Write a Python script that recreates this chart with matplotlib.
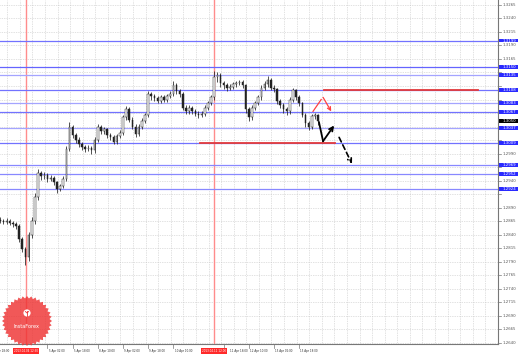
"""EURUSD H-chart snapshot with support/resistance levels and forecast arrows."""
import matplotlib
matplotlib.use("Agg")
import matplotlib.pyplot as plt
from matplotlib.patches import Rectangle, Polygon, Circle
import numpy as np

# ---- data (2-hour bars) ----
OPEN0 = 1.2868
CLOSE = [
    1.2866, 1.2864, 1.2866, 1.2862, 1.2860, 1.2857, 1.2832, 1.2814, 1.2799, 1.2840,
    1.2866, 1.2910, 1.2954, 1.2948, 1.2950, 1.2943, 1.2945, 1.2937, 1.2924, 1.2930,
    1.2943, 1.2998, 1.3039, 1.3024, 1.3016, 1.3007, 1.3002, 1.2998, 1.3000, 1.2996,
    1.3016, 1.3039, 1.3031, 1.3035, 1.3024, 1.3020, 1.3011, 1.3022, 1.3029, 1.3057,
    1.3072, 1.3053, 1.3040, 1.3026, 1.3040, 1.3050, 1.3061, 1.3100, 1.3096, 1.3092,
    1.3088, 1.3094, 1.3090, 1.3096, 1.3100, 1.3116, 1.3105, 1.3100, 1.3075, 1.3068,
    1.3074, 1.3068, 1.3064, 1.3061, 1.3064, 1.3075, 1.3083, 1.3094, 1.3131, 1.3135,
    1.3120, 1.3116, 1.3111, 1.3114, 1.3118, 1.3120, 1.3122, 1.3116, 1.3072, 1.3057,
    1.3075, 1.3083, 1.3094, 1.3112, 1.3118, 1.3127, 1.3112, 1.3109, 1.3087, 1.3079,
    1.3072, 1.3068, 1.3090, 1.3107, 1.3094, 1.3083, 1.3062, 1.3046, 1.3039, 1.3059,
    1.3061, 1.3050,
]
HIGH = [
    1.2872, 1.2870, 1.2871, 1.2869, 1.2866, 1.2864, 1.2860, 1.2836, 1.2818, 1.2845,
    1.2872, 1.2918, 1.2962, 1.2958, 1.2956, 1.2954, 1.2950, 1.2948, 1.2940, 1.2934,
    1.2948, 1.3004, 1.3048, 1.3043, 1.3028, 1.3020, 1.3011, 1.3006, 1.3005, 1.3004,
    1.3020, 1.3045, 1.3043, 1.3040, 1.3038, 1.3028, 1.3024, 1.3026, 1.3034, 1.3062,
    1.3078, 1.3076, 1.3057, 1.3044, 1.3045, 1.3055, 1.3066, 1.3106, 1.3104, 1.3100,
    1.3096, 1.3098, 1.3099, 1.3101, 1.3105, 1.3125, 1.3120, 1.3109, 1.3103, 1.3080,
    1.3079, 1.3078, 1.3072, 1.3068, 1.3069, 1.3080, 1.3088, 1.3099, 1.3142, 1.3140,
    1.3139, 1.3125, 1.3120, 1.3119, 1.3123, 1.3125, 1.3127, 1.3126, 1.3119, 1.3076,
    1.3080, 1.3088, 1.3099, 1.3117, 1.3124, 1.3133, 1.3130, 1.3116, 1.3112, 1.3091,
    1.3083, 1.3076, 1.3095, 1.3112, 1.3110, 1.3098, 1.3086, 1.3066, 1.3050, 1.3063,
    1.3066, 1.3064,
]
LOW = [
    1.2862, 1.2859, 1.2860, 1.2858, 1.2855, 1.2850, 1.2826, 1.2808, 1.2784, 1.2792,
    1.2834, 1.2860, 1.2905, 1.2942, 1.2943, 1.2938, 1.2939, 1.2932, 1.2918, 1.2920,
    1.2926, 1.2940, 1.2994, 1.3018, 1.3010, 1.3002, 1.2997, 1.2993, 1.2994, 1.2990,
    1.2992, 1.3012, 1.3026, 1.3027, 1.3019, 1.3015, 1.3007, 1.3008, 1.3018, 1.3025,
    1.3052, 1.3048, 1.3035, 1.3020, 1.3022, 1.3036, 1.3046, 1.3058, 1.3090, 1.3087,
    1.3083, 1.3084, 1.3085, 1.3086, 1.3092, 1.3097, 1.3100, 1.3094, 1.3070, 1.3063,
    1.3064, 1.3063, 1.3059, 1.3056, 1.3057, 1.3060, 1.3071, 1.3079, 1.3090, 1.3122,
    1.3114, 1.3110, 1.3106, 1.3107, 1.3110, 1.3114, 1.3116, 1.3111, 1.3066, 1.3050,
    1.3053, 1.3070, 1.3079, 1.3090, 1.3107, 1.3114, 1.3107, 1.3103, 1.3082, 1.3074,
    1.3066, 1.3062, 1.3064, 1.3086, 1.3089, 1.3078, 1.3057, 1.3040, 1.3033, 1.3035,
    1.3054, 1.3042,
]

LEVELS = [1.3199, 1.3150, 1.3135, 1.3108, 1.3083, 1.3067, 1.3037, 1.3009, 1.2969, 1.2952, 1.2924]
RED_LEVELS = [1.3107, 1.3009]
RED_SPANS = [(103.0, 152.0), (63.5, 106.5)]

TIME_LABELS = ["Apr 18:00", "5 Apr 02:00", "5 Apr 18:00", "8 Apr 10:00", "9 Apr 02:00",
               "9 Apr 18:00", "10 Apr 10:00", "11 Apr 18:00", "12 Apr 10:00",
               "15 Apr 02:00", "15 Apr 18:00"]
TIME_BARS = [-1, 15, 23, 31, 39, 47, 55, 71, 79, 87, 95]
EVENT_BARS = [8.3, 68.0]
EVENT_LABELS = ["2013.04.04 12:30", "2013.04.11 12:00"]

# forecast sketch (bar index, price)
RED_UP = [(99.4, 1.3068), (102.0, 1.3090)]
RED_DOWN = [(102.6, 1.3094), (105.2, 1.3068)]
BLACK_DOWN = [(101.3, 1.3048), (102.6, 1.3013)]
BLACK_UP = [(102.6, 1.3013), (106.1, 1.3042)]
BLACK_DASH = [(107.7, 1.3020), (111.8, 1.2971)]

W, H = 518, 356
fig = plt.figure(figsize=(W / 100, H / 100), dpi=100)
fig.patch.set_facecolor("white")
ax = fig.add_axes([0, 12 / H, 498 / W, 344 / H])
ax.set_xlim(-0.08, 158.2)
ax.set_ylim(1.2638, 1.3274)
ax.set_xticks([])
ax.set_yticks([])
for s in ["top", "left"]:
    ax.spines[s].set_visible(False)
for s in ["right", "bottom"]:
    ax.spines[s].set_color("#777777")
    ax.spines[s].set_linewidth(0.8)

# grid
price_ticks = np.round(np.arange(1.3265, 1.2639, -0.0025), 4)
for p in price_ticks:
    ax.axhline(p, color="#c4c4c4", lw=0.5, ls=(0, (1, 1.5)), zorder=0)
for gx in np.arange(2.2, 158, 4):
    ax.axvline(gx, color="#c4c4c4", lw=0.5, ls=(0, (1, 1.5)), zorder=0)

# event lines
for b in EVENT_BARS:
    ax.axvline(b, color="#ff8c8c", lw=1.0, zorder=1)

# levels
shades = ["#7272ff", "#6464ff", "#a4a4ff", "#7272ff", "#a4a4ff", "#7272ff",
          "#a4a4ff", "#7272ff", "#8888ff", "#8888ff", "#8888ff"]
for lv, col in zip(LEVELS, shades):
    ax.axhline(lv, color=col, lw=0.9, zorder=2)

for lv, (x0, x1) in zip(RED_LEVELS, RED_SPANS):
    ax.plot([x0, x1], [lv, lv], color="#e23a3a", lw=1.3, zorder=3)

# candles
close = np.array(CLOSE)
opens = np.array([OPEN0] + CLOSE[:-1])
high = np.array(HIGH)
low = np.array(LOW)
idx = np.arange(len(close))
ax.vlines(idx, low, high, color="#222222", lw=0.55, zorder=4)
bull = close >= opens
body = np.maximum(np.abs(close - opens), 0.00006)
ax.bar(idx, body, bottom=np.minimum(opens, close), width=0.5,
       color=np.where(bull, "white", "#222222"), edgecolor="#222222",
       linewidth=0.35, zorder=5)

# forecast arrows
ax.plot(*zip(*RED_UP), color="#ff4040", lw=0.9, zorder=6)
ax.annotate("", xy=RED_DOWN[1], xytext=RED_DOWN[0],
            arrowprops=dict(arrowstyle="->", color="#ff4040", lw=0.9,
                            mutation_scale=6, shrinkA=0, shrinkB=0), zorder=6)
ax.plot(*zip(*BLACK_DOWN), color="black", lw=1.3, zorder=6)
ax.annotate("", xy=BLACK_UP[1], xytext=BLACK_UP[0],
            arrowprops=dict(arrowstyle="->", color="black", lw=1.3,
                            mutation_scale=7, shrinkA=0, shrinkB=0), zorder=6)
ax.annotate("", xy=BLACK_DASH[1], xytext=BLACK_DASH[0],
            arrowprops=dict(arrowstyle="->", color="black", lw=1.2, ls=(0, (3, 2)),
                            mutation_scale=7, shrinkA=0, shrinkB=0), zorder=6)

# right price scale
yt = ax.get_yaxis_transform()
fs = 2.8
last = CLOSE[-1]
boxed = LEVELS + [last]
for p in price_ticks:
    ax.plot([1.0, 1.006], [p, p], transform=yt, color="#777777", lw=0.5, clip_on=False)
    if min(abs(p - b) for b in boxed) < 0.0009:
        continue
    ax.text(1.009, p, "%.4f" % p, transform=yt, fontsize=fs, color="#555555",
            va="center", ha="left", clip_on=False)
box_h = 0.0007
for lv in LEVELS:
    ax.add_patch(Rectangle((1.003, lv - box_h / 2), 0.037, box_h, transform=yt,
                           facecolor="#2a2aff", edgecolor="none", clip_on=False, zorder=7))
    ax.text(1.009, lv, "%.4f" % lv, transform=yt, fontsize=fs, color="white",
            va="center", ha="left", clip_on=False, zorder=8)
ax.add_patch(Rectangle((1.003, last - box_h / 2), 0.037, box_h, transform=yt,
                       facecolor="black", edgecolor="none", clip_on=False, zorder=7))
ax.text(1.009, last, "%.4f" % last, transform=yt, fontsize=fs, color="white",
        va="center", ha="left", clip_on=False, zorder=8)

# time scale; labels that would sit under an event box start right after it
xt = ax.get_xaxis_transform()
tfs = 1.95
for b, lab in zip(TIME_BARS, TIME_LABELS):
    ax.plot([b, b], [0, -0.012], transform=xt, color="#777777", lw=0.5, clip_on=False)
    tx, ha = b + 0.4, "left"
    if b < 0:
        tx, ha = 3.0, "right"
    elif abs(b - EVENT_BARS[1]) < 5:
        tx = EVENT_BARS[1] + 4.9
    ax.text(tx, -0.02, lab, transform=xt, fontsize=tfs, color="#333333",
            va="center", ha=ha, clip_on=False)
for b, lab in zip(EVENT_BARS, EVENT_LABELS):
    ax.text(b, -0.02, lab, transform=xt, fontsize=tfs, color="white",
            va="center", ha="center", clip_on=False, zorder=9,
            bbox=dict(boxstyle="square,pad=0.35", fc="#ff2a2a", ec="none"))

# InstaForex badge in pixel coordinates
ov = fig.add_axes([0, 0, 1, 1])
ov.set_xlim(0, W)
ov.set_ylim(H, 0)
ov.axis("off")
ov.patch.set_alpha(0)
cx, cy = 27, 321
th = np.linspace(0, 2 * np.pi, 73)[:-1]
rr = np.where(np.arange(len(th)) % 2 == 0, 25, 22.6)
ov.add_patch(Polygon(np.c_[cx + rr * np.cos(th), cy + rr * np.sin(th)],
                     closed=True, facecolor="#ee3333", edgecolor="none", alpha=0.82))
ov.add_patch(Circle((cx, cy - 8), 3.6, facecolor="white", edgecolor="none"))
ov.plot([cx, cx], [cy - 10.5, cy - 5.5], color="#ee3333", lw=0.6)
ov.plot([cx - 1.6, cx, cx + 1.6], [cy - 9.5, cy - 8, cy - 9.5], color="#ee3333", lw=0.6)
ov.text(cx, cy + 5, "InstaForex", color="white", fontsize=3.6, ha="center", va="center")

fig.savefig("out.png", dpi=100)
